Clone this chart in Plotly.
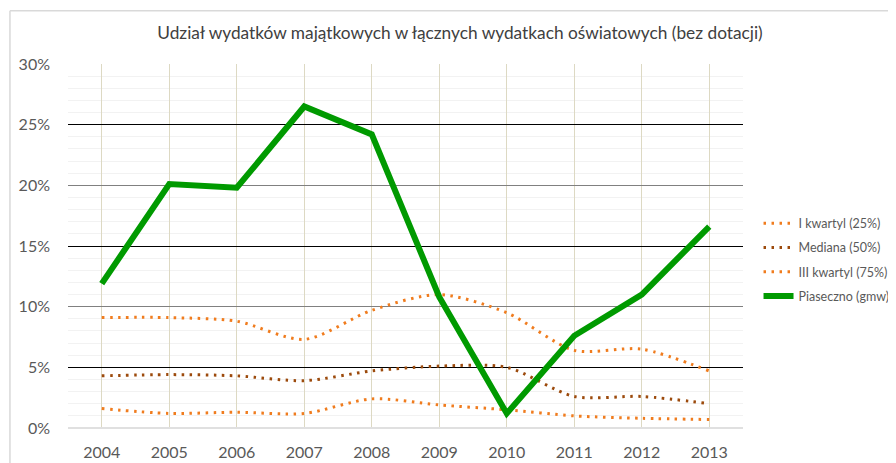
"""Share of capital spending in total education spending, 2004-2013."""

import plotly.graph_objects as go

years = ["2004", "2005", "2006", "2007", "2008", "2009", "2010", "2011", "2012", "2013"]

q1 = [1.6, 1.2, 1.3, 1.2, 2.4, 1.9, 1.5, 1.0, 0.8, 0.7]
median = [4.3, 4.4, 4.3, 3.9, 4.7, 5.1, 5.0, 2.6, 2.6, 2.0]
q3 = [9.1, 9.1, 8.8, 7.3, 9.7, 11.0, 9.5, 6.4, 6.5, 4.7]
piaseczno = [11.9, 20.1, 19.8, 26.5, 24.2, 10.8, 1.2, 7.6, 11.0, 16.6]

ORANGE = "#f07c1e"
BROWN = "#9c4a0c"
GREEN = "#009a00"
TEXT = "#595959"
FONT = "Lato, 'Open Sans', sans-serif"

fig = go.Figure()

for i, (name, vals, color) in enumerate([
    ("I kwartyl (25%)", q1, ORANGE),
    ("Mediana (50%)", median, BROWN),
    ("III kwartyl (75%)", q3, ORANGE),
]):
    fig.add_trace(
        go.Scatter(
            x=years,
            y=vals,
            mode="lines",
            name=name,
            legendgroup=f"g{i}",
            line=dict(color=color, width=3, dash="2.5px,5.5px", shape="spline", smoothing=0.8),
        )
    )

fig.add_trace(
    go.Scatter(
        x=years,
        y=piaseczno,
        mode="lines",
        name="Piaseczno (gmw)",
        legendgroup="g3",
        line=dict(color=GREEN, width=6),
    )
)

# second axis only carries the black gridlines at 5/15/25
fig.add_trace(go.Scatter(x=years, y=[None] * len(years), yaxis="y2", showlegend=False, hoverinfo="skip"))

# page body adds an 8px offset, so the figure is sized 8px smaller
fig.update_layout(
    width=888,
    height=455,
    margin=dict(l=60, r=153, t=56, b=35, autoexpand=False),
    paper_bgcolor="white",
    plot_bgcolor="white",
    font=dict(family=FONT, color=TEXT, size=14),
    title=dict(
        text="Udział wydatków majątkowych w łącznych wydatkach oświatowych (bez dotacji)",
        x=(460 - 8) / 888,
        xanchor="center",
        y=1 - (33 - 8) / 455,
        yanchor="middle",
        font=dict(size=17.3, color="#404040"),
    ),
    xaxis=dict(
        type="category",
        range=[-0.5, 9.5],
        showgrid=True,
        gridcolor="#ddd9c3",
        gridwidth=1,
        showline=False,
        ticks="",
        ticklabelstandoff=13,
        tickfont=dict(size=16, color=TEXT),
    ),
    yaxis=dict(
        range=[0, 30],
        dtick=5,
        tick0=0,
        ticksuffix="%",
        showgrid=True,
        gridcolor="#808080",
        gridwidth=1,
        zeroline=True,
        zerolinecolor="#e0e0e0",
        zerolinewidth=2,
        ticklabelstandoff=17,
        tickfont=dict(size=16, color=TEXT),
        minor=dict(dtick=1, showgrid=True, gridcolor="#f2f2f2", gridwidth=1),
    ),
    yaxis2=dict(
        overlaying="y",
        range=[0, 30],
        tick0=5,
        dtick=10,
        showgrid=True,
        gridcolor="#000000",
        gridwidth=1,
        showticklabels=False,
        zeroline=False,
        side="left",
    ),
    legend=dict(
        x=1.023,
        y=0.603,
        xanchor="left",
        yanchor="top",
        font=dict(size=12.5, color=TEXT),
        tracegroupgap=5,
        bgcolor="rgba(0,0,0,0)",
    ),
    showlegend=True,
    shapes=[
        dict(type="line", xref="paper", yref="paper", x0=-0.086, x1=-0.086, y0=-0.2, y1=1.146,
             line=dict(color="#d9d9d9", width=1.5)),
        dict(type="line", xref="paper", yref="paper", x0=-0.086, x1=1.3, y0=1.146, y1=1.146,
             line=dict(color="#d9d9d9", width=1.5)),
    ],
)

fig.write_html("out.html")
